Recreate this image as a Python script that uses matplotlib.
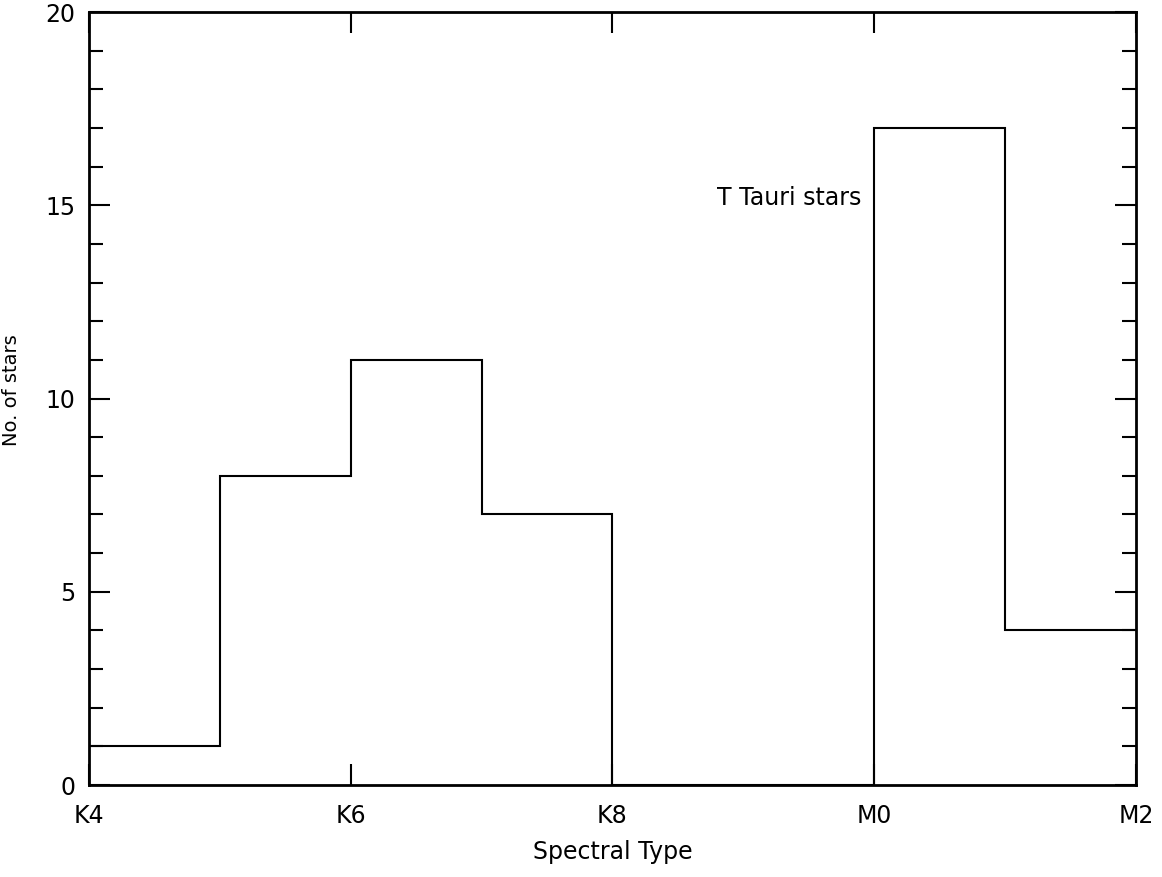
import numpy as np
import matplotlib.pyplot as plt

# spectral subclasses K4..M2 on a linear axis, one bin per subclass
bin_edges = [0, 1, 2, 3, 4, 5, 6, 7, 8]
counts = [1, 8, 11, 7, 0, 0, 17, 4]
tick_pos = [0, 2, 4, 6, 8]
tick_labels = ['K4', 'K6', 'K8', 'M0', 'M2']

plt.rcParams['font.family'] = ['DejaVu Sans']

fig = plt.figure(figsize=(11.62, 8.77), dpi=100)
ax = fig.add_axes([0.0766, 0.1049, 0.9010, 0.8814])

ax.stairs(counts, bin_edges, color='k', linewidth=1.5, baseline=None)

ax.set_xlim(0, 8)
ax.set_ylim(0, 20)
ax.set_xticks(tick_pos)
ax.set_xticklabels(tick_labels)
ax.set_yticks([0, 5, 10, 15, 20])
ax.set_yticks(np.arange(0, 21, 1), minor=True)

ax.tick_params(axis='both', which='major', direction='in', length=15, width=1.5,
               top=True, right=True, labelsize=17, colors='k')
ax.tick_params(axis='x', which='major', pad=14)
ax.tick_params(axis='y', which='major', pad=10)
ax.tick_params(axis='y', which='minor', direction='in', length=10, width=1.5,
               left=True, right=True)
ax.tick_params(axis='x', which='minor', bottom=False, top=False)
for s in ax.spines.values():
    s.set_linewidth(2)

ax.set_xlabel('Spectral Type', fontsize=17, labelpad=8)
# y label sits hard against the left edge, as in the original
fig.text(0.002, 0.555, 'No. of stars', rotation=90, ha='left', va='center', fontsize=14)

ax.text(5.9, 15.2, 'T Tauri stars', ha='right', va='center', fontsize=17)

fig.savefig('out.png', dpi=100)
